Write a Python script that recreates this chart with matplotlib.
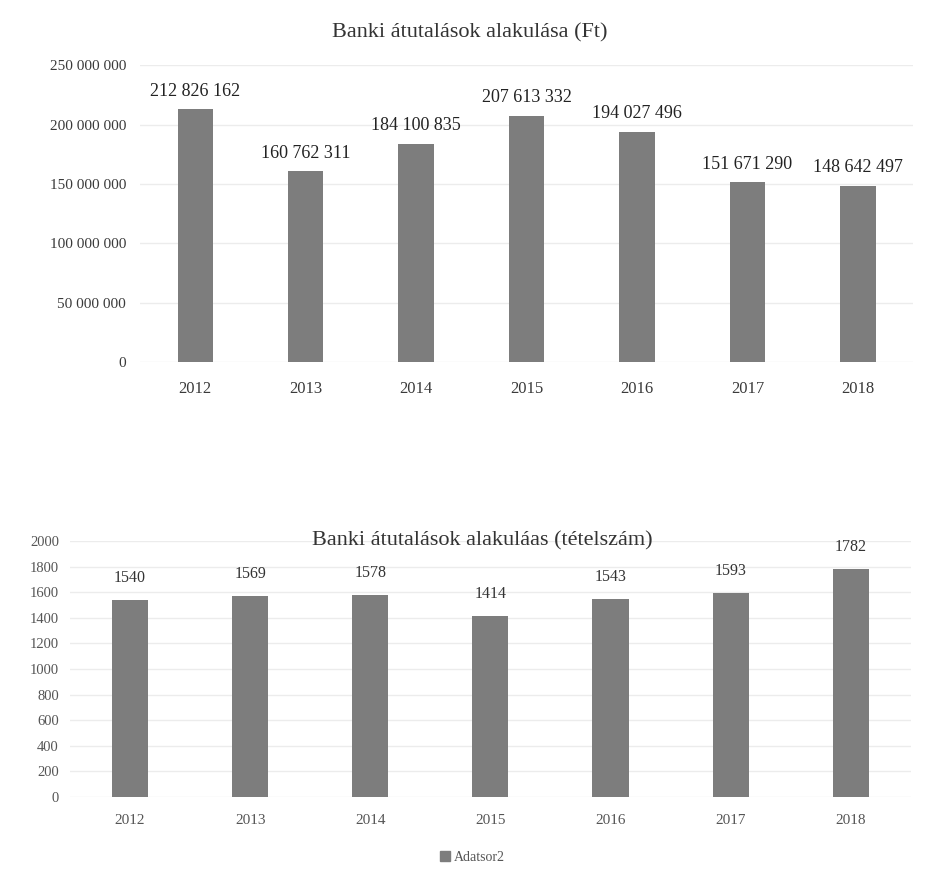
import matplotlib
matplotlib.use('Agg')
import matplotlib.pyplot as plt
from matplotlib.ticker import FuncFormatter
from matplotlib.patches import Patch

plt.rcParams['font.family'] = ['Liberation Serif', 'DejaVu Serif']

years = ['2012', '2013', '2014', '2015', '2016', '2017', '2018']
amount_ft = [212826162, 160762311, 184100835, 207613332, 194027496, 151671290, 148642497]
item_count = [1540, 1569, 1578, 1414, 1543, 1593, 1782]

bar_color = '#7d7d7d'
text_color = '#3a3a3a'
grid_color = '#ececec'


def spaced(v, pos=None):
    return f'{int(v):,}'.replace(',', ' ')


fig = plt.figure(figsize=(9.27, 8.83), dpi=100)

# Top chart
ax1 = fig.add_axes([0.151, 0.590, 0.834, 0.336])
x = range(len(years))
ax1.bar(x, amount_ft, width=0.32, color=bar_color, zorder=2)
ax1.set_ylim(0, 250000000)
ax1.set_xlim(-0.5, len(years) - 0.5)
ax1.set_yticks(range(0, 250000001, 50000000))
ax1.yaxis.set_major_formatter(FuncFormatter(spaced))
ax1.set_xticks(list(x))
ax1.set_xticklabels(years)
ax1.grid(axis='y', color=grid_color, linewidth=1, zorder=0)
for i, v in enumerate(amount_ft):
    ax1.text(i, v + 8000000, spaced(v), ha='center', va='bottom',
             fontsize=13, color='#222222')
ax1.tick_params(length=0, labelsize=11, colors=text_color, pad=10)
ax1.tick_params(axis='x', labelsize=12, pad=14)
for s in ax1.spines.values():
    s.set_visible(False)
fig.text(0.507, 0.963, 'Banki átutalások alakulása (Ft)', ha='center', va='center',
         fontsize=16, color='#333333')

# Bottom chart
ax2 = fig.add_axes([0.0755, 0.0974, 0.907, 0.290])
ax2.bar(x, item_count, width=0.3, color=bar_color, zorder=2)
ax2.set_ylim(0, 2000)
ax2.set_xlim(-0.5, len(years) - 0.5)
ax2.set_yticks(range(0, 2001, 200))
ax2.set_xticks(list(x))
ax2.set_xticklabels(years)
ax2.grid(axis='y', color=grid_color, linewidth=1, zorder=0)
for i, v in enumerate(item_count):
    ax2.text(i, v + 110, str(v), ha='center', va='bottom',
             fontsize=11.5, color='#333333')
ax2.tick_params(length=0, labelsize=10.5, colors='#555555', pad=8)
ax2.tick_params(axis='x', labelsize=11, pad=12)
for s in ax2.spines.values():
    s.set_visible(False)
fig.text(0.52, 0.387, 'Banki átutalások alakuláas (tételszám)', ha='center', va='center',
         fontsize=16, color='#333333')

fig.legend(handles=[Patch(color=bar_color, label='Adatsor2')], loc='center',
           bbox_to_anchor=(0.51, 0.029), frameon=False, fontsize=10,
           handlelength=0.7, handleheight=0.7, handletextpad=0.3, labelcolor='#555555')

fig.savefig('out.png', dpi=100, facecolor='white')
